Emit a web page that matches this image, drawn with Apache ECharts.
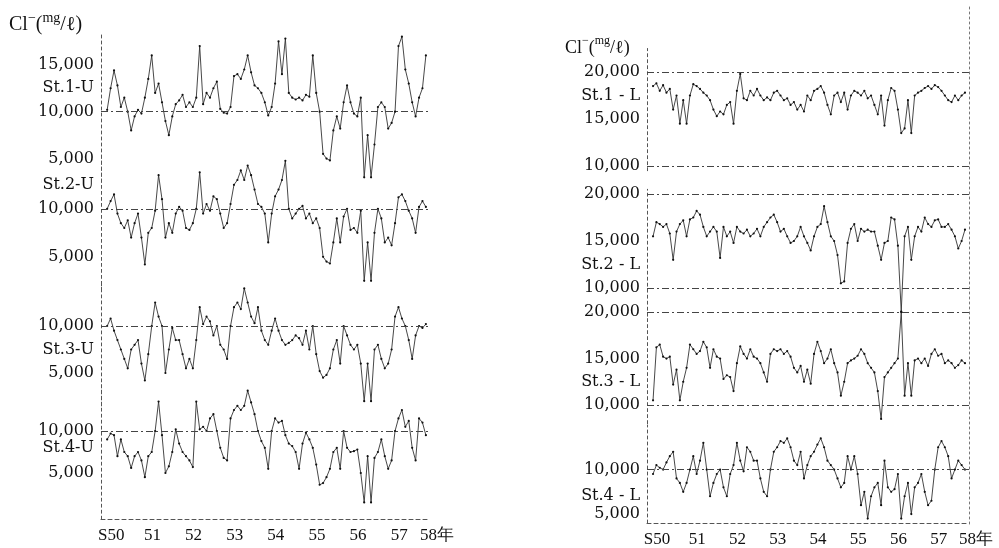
<!DOCTYPE html>
<html><head><meta charset="utf-8">
<script src="https://cdn.jsdelivr.net/npm/echarts@6/dist/echarts.min.js"></script>
<style>html,body{margin:0;padding:0;background:#fff}#c{width:999px;height:548px}</style>
</head><body><div id="c"></div>
<script>
// ---- data (monthly Cl- concentration, mg/l), first month at S49.9 ----
const startYear = 49.9;
const xMin = 49.75, xMax = 57.75;
const xTickValues = [50, 51, 52, 53, 54, 55, 56, 57, 57.75];
const xTickTexts  = ['S50', '51', '52', '53', '54', '55', '56', '57', '58年'];

const st1U = [10200,12500,14400,12800,10500,11500,10000,8000,9500,10200,
  9800,11500,13500,16000,12000,13000,11000,9000,7500,9500,
  10800,11200,11800,10500,11000,10500,11500,17000,10800,12000,
  11500,12500,13200,10300,9900,9800,10500,13800,14000,13500,
  14500,16000,14200,12800,12500,12000,11000,9600,10500,13000,
  17500,14000,17800,12000,11500,11300,11500,11200,11800,11600,
  16000,12000,10000,5500,5000,4800,8000,9500,8200,11000,
  12800,11000,9800,9500,11500,3000,7500,3000,6500,10500,
  11000,10500,8200,8800,10000,17000,18000,14500,13000,11000,
  9500,11500,12500,16000];
const st2U = [10000,10800,11500,9500,8500,8000,8800,7000,8500,9500,
  7000,4200,7500,8000,9800,13500,11000,7000,8500,7500,
  9500,10200,9800,8000,7800,8500,10000,13800,9500,10500,
  9800,11300,11000,9500,8000,8500,10500,12500,13000,14000,
  13000,14500,13500,12000,10500,10200,9500,6500,9500,11300,
  12000,13000,15000,10000,9000,9500,10000,10300,9000,9500,
  8500,9000,8000,5000,4500,4300,6500,9000,6500,9200,
  10000,7800,8000,7500,9800,2500,6500,2500,7500,10000,
  9000,6500,7000,6200,8500,11200,11500,10800,9800,9000,
  7500,10200,10800,10200];
const st3U = [10000,10800,9500,8500,7500,6500,5500,7500,8000,8500,
  6000,4200,7000,10000,12500,11000,10000,5000,7500,9800,
  8500,8500,7000,5500,6500,5500,8500,12000,10200,11000,
  10500,9000,10000,8000,7500,6500,10000,12000,12500,11800,
  14000,12500,11000,10300,12000,9500,8500,8000,9500,10800,
  9500,8500,8000,8200,8500,9000,8700,8000,9500,7500,
  10000,7000,5200,4500,4800,5500,7500,8500,6000,10000,
  9000,8000,7500,8000,6000,2000,6000,2000,7500,8000,
  6500,5500,6000,7500,11000,12000,10800,10000,8500,6500,
  9000,10000,9800,10200];
const st4U = [9000,9700,9500,7000,9000,7500,7000,5600,7000,7500,
  6500,4500,7000,7500,10000,13500,9500,5000,5800,7500,
  10200,8500,7500,7000,6500,5700,13500,10200,10500,10000,
  11500,12000,10000,8000,6800,6500,11500,12500,13000,12500,
  13000,14800,13400,12000,10000,8800,8000,5500,10000,11500,
  11000,11200,9500,8500,8200,7500,5500,8500,9800,9000,
  8000,6000,3600,3800,4500,5500,7500,8000,5500,10000,
  8000,7500,7600,7800,5000,1500,7000,1500,6800,7500,
  9000,7000,5500,6500,10000,11500,12500,10500,11200,8000,
  6500,11500,11000,9500];
const st1L = [18500,18800,18000,18600,17800,18200,16000,17500,14500,17000,
  14500,17500,18700,18500,18200,17800,17500,17000,16000,15300,
  15800,15500,16500,16800,14500,18000,19800,17200,17000,18000,
  17500,18200,17500,17000,17300,17000,17800,18000,17500,17000,
  17200,16500,16800,16000,16500,15800,17500,17000,18000,18200,
  18500,17800,16500,15500,17500,17800,16800,17800,16000,17500,
  18000,17800,17500,18000,17200,17500,16500,15500,17500,14300,
  17000,18300,18000,16000,13500,14000,17000,13500,17500,17800,
  18000,18300,18500,18200,18600,18400,18000,17500,17000,16800,
  17500,17000,17500,17800];
const st2L = [15500,17000,16800,16500,16800,15800,13000,16000,16800,17200,
  15500,17300,17500,18200,17800,16500,15500,16000,16500,16000,
  13200,16500,15500,16000,14800,16500,16000,15800,16200,15500,
  15800,16300,15500,16500,17000,17500,17800,17000,16000,16300,
  15500,14800,15000,15500,16500,15500,14800,14000,15500,16500,
  16800,18700,17000,15500,15000,13500,10500,10700,14800,16300,
  16800,15000,16300,16000,16200,16000,16000,14500,13000,14800,
  15000,17500,17300,14500,7500,15500,16500,13000,15500,16500,
  16000,17500,16800,16500,17200,17300,16500,16500,16800,16200,
  15500,14200,15000,16200];
const st3L = [10500,16200,16500,15200,15000,15200,12200,13800,10500,12500,
  14000,16500,16000,15500,15800,16800,16200,14000,16000,15200,
  15000,12800,13200,13000,11500,14500,16300,15500,15000,16000,
  15200,15000,14500,13500,12500,15500,16000,15800,16000,15500,
  15800,15200,14000,13500,14200,12500,13800,12300,15500,16800,
  15800,14500,15000,16000,14500,13500,11000,12500,14500,14800,
  15000,15300,16000,15500,14500,14000,13500,11500,8500,13000,
  13500,14000,14500,15000,20000,11000,14500,11000,14800,15000,
  14500,15000,14200,15500,16000,15300,15500,14500,14800,14500,
  14000,14300,14800,14500];
const st4L = [9500,10500,10200,10000,10800,11500,12000,9000,8500,7500,
  8500,10000,11500,9500,11000,13000,10000,7000,8500,9500,
  10000,8000,7000,9500,10500,13000,11000,9800,12500,12000,
  11000,11000,9000,7500,7000,10000,12000,12500,13200,13000,
  13500,12500,11000,10500,12000,9000,10500,11500,12000,12800,
  13500,12500,11000,10500,10000,9000,8000,8500,11500,10000,
  11500,9500,6000,7500,4500,7000,8000,8500,6000,11000,
  8000,7500,7800,9500,4500,7000,8500,5000,8000,8500,
  9500,7500,6000,6500,10000,12500,13200,12500,11500,9000,
  10000,11000,10500,10000];

// tick labels per sub-axis: [value, text]
const ticksU1 = [[15000,'15,000'],[12500,'St.1-U'],[10000,'10,000'],[5000,'5,000']];
const ticksU2 = [[12500,'St.2-U'],[10000,'10,000'],[5000,'5,000']];
const ticksU3 = [[10000,'10,000'],[7500,'St.3-U'],[5000,'5,000']];
const ticksU4 = [[10000,'10,000'],[8000,'St.4-U'],[5000,'5,000']];
const ticksL1 = [[20000,'20,000'],[17500,'St.1 - L'],[15000,'15,000'],[10000,'10,000']];
const ticksL2 = [[20000,'20,000'],[15000,'15,000'],[12500,'St.2 - L'],[10000,'10,000']];
const ticksL3 = [[20000,'20,000'],[15000,'15,000'],[12500,'St.3 - L'],[10000,'10,000']];
const ticksL4 = [[10000,'10,000'],[7000,'St.4 - L'],[5000,'5,000']];
const unitTitle = '{a|Cl}{s|−}{a|(}{s|mg}{a|/ℓ)}';

// ---- layout / style ----
const time = st1U.map((_, i) => startYear + i / 12);
const panels = [
  {vals: st1U, ticks: ticksU1, refs: [10000], left: 101, width: 329, top: 32, height: 150, min: 2500, max: 18500},
  {vals: st2U, ticks: ticksU2, refs: [10000], left: 101, width: 329, top: 156, height: 134.4, min: 1500, max: 15500},
  {vals: st3U, ticks: ticksU3, refs: [10000], left: 101, width: 329, top: 283.7, height: 122.2, min: 1500, max: 14500},
  {vals: st4U, ticks: ticksU4, refs: [10000], left: 101, width: 329, top: 384.8, height: 134.4, min: -500, max: 15500, bottom: true},
  {vals: st1L, ticks: ticksL1, refs: [20000, 10000], left: 647, width: 322, top: 48.5, height: 122.2, min: 9500, max: 22500},
  {vals: st2L, ticks: ticksL2, refs: [20000, 10000], left: 647, width: 322, top: 189.3, height: 126.9, min: 7000, max: 20500},
  {vals: st3L, ticks: ticksL3, refs: [20000, 10000], left: 647, width: 322, top: 307.4, height: 116.2, min: 8000, max: 20500},
  {vals: st4L, ticks: ticksL4, refs: [10000], left: 647, width: 322, top: 425, height: 99, min: 4000, max: 15000, bottom: true}
];
const axisColor = '#555';
const grids = [], xAxes = [], yAxes = [], series = [];
panels.forEach((p, k) => {
  grids.push({left: p.left, top: p.top, width: p.width, height: p.height, containLabel: false});
  const map = {};
  p.ticks.forEach(t => { map[t[0]] = t[1]; });
  yAxes.push({
    type: 'value', gridIndex: k, min: p.min, max: p.max, interval: 500,
    axisLine: {show: true, lineStyle: {type: [3, 3], color: axisColor, width: 1}},
    axisTick: {show: false}, splitLine: {show: false},
    axisLabel: {formatter: v => map[Math.round(v)] || '', margin: 7,
      fontFamily: 'DejaVu Serif', fontSize: 16, color: '#111'}
  });
  xAxes.push({
    type: 'value', gridIndex: k, min: xMin, max: xMax, interval: 0.25,
    show: !!p.bottom,
    axisLine: {show: true, onZero: false, lineStyle: {type: [4, 3], color: axisColor, width: 1}},
    axisTick: {show: false}, splitLine: {show: false},
    axisLabel: {margin: 8, fontFamily: 'Liberation Serif', fontSize: 17, color: '#111',
      rich: {e: {fontFamily: 'Liberation Serif', fontSize: 17, color: '#111', padding: [0, 0, 0, 14]}},
      formatter: v => {
        const j = xTickValues.findIndex(t => Math.abs(t - v) < 1e-6);
        if (j < 0) return '';
        return j === xTickValues.length - 1 ? '{e|' + xTickTexts[j] + '}' : xTickTexts[j];
      }}
  });
  series.push({
    type: 'line', xAxisIndex: k, yAxisIndex: k,
    data: p.vals.map((v, i) => [time[i], v]),
    symbol: 'circle', symbolSize: 2.2, showSymbol: true,
    lineStyle: {color: '#333', width: 0.9}, itemStyle: {color: '#111'},
    animation: false, silent: true,
    markLine: {silent: true, symbol: 'none', label: {show: false}, animation: false,
      lineStyle: {type: [7, 3, 2, 3], color: '#444', width: 1},
      data: p.refs.map(r => ({yAxis: r}))}
  });
});
// right border of the right-hand panel
grids.push({left: 647, top: 6, width: 322, height: 518});
xAxes.push({type: 'value', gridIndex: 8, min: xMin, max: xMax, show: false});
yAxes.push({type: 'value', gridIndex: 8, position: 'right', min: 0, max: 1,
  axisLine: {show: true, lineStyle: {type: [2, 3], color: '#777'}},
  axisTick: {show: false}, axisLabel: {show: false}, splitLine: {show: false}});

function titleRich(size) {
  return {
    a: {fontFamily: 'Liberation Serif', fontSize: size, fontWeight: 'normal', color: '#111', lineHeight: size + 4, verticalAlign: 'bottom'},
    s: {fontFamily: 'Liberation Serif', fontSize: Math.round(size * 0.68), fontWeight: 'normal', color: '#111', lineHeight: size + 4, verticalAlign: 'top'}
  };
}
const chart = echarts.init(document.getElementById('c'), null, {renderer: 'canvas'});
chart.setOption({
  backgroundColor: '#fff',
  animation: false,
  title: [
    {text: unitTitle, left: 4, top: 6, textStyle: {fontWeight: 'normal', rich: titleRich(20)}},
    {text: unitTitle, left: 560, top: 30, textStyle: {fontWeight: 'normal', rich: titleRich(18)}}
  ],
  grid: grids, xAxis: xAxes, yAxis: yAxes, series: series
});
</script></body></html>
